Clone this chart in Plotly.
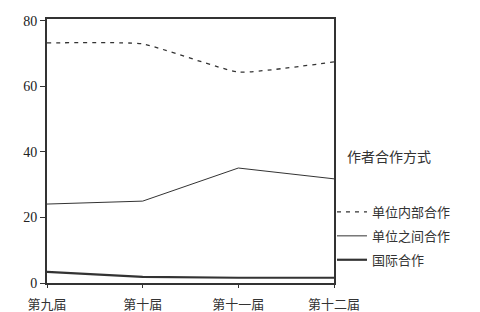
import plotly.graph_objects as go

categories = ["第九届", "第十届", "第十一届", "第十二届"]
within_unit = [73.3, 73.0, 64.4, 67.5]
between_units = [24.1, 25.0, 35.1, 31.8]
international = [3.4, 1.9, 1.6, 1.6]
series_names = ["单位内部合作", "单位之间合作", "国际合作"]
legend_title = "作者合作方式"
y_ticks = [0, 20, 40, 60, 80]

FONT = "Liberation Serif, Noto Sans CJK SC, serif"
INK = "#333333"

fig = go.Figure()
fig.add_trace(go.Scatter(x=categories, y=within_unit, mode="lines", name=series_names[0],
                         line=dict(color=INK, width=1.3, dash="4px,5px", shape="spline", smoothing=0.4),
                         legendgroup="a"))
fig.add_trace(go.Scatter(x=categories, y=between_units, mode="lines", name=series_names[1],
                         line=dict(color=INK, width=1), legendgroup="b"))
fig.add_trace(go.Scatter(x=categories, y=international, mode="lines", name=series_names[2],
                         line=dict(color=INK, width=2.2), legendgroup="c"))

fig.update_layout(
    width=480, height=312,
    margin=dict(l=47, r=146, t=19, b=29),
    paper_bgcolor="white", plot_bgcolor="white",
    font=dict(family=FONT, size=13, color="#222"),
    showlegend=True,
    legend=dict(x=0.993, xanchor="left", y=0.178, yanchor="middle",
                font=dict(family="Noto Sans CJK SC", size=13, color="#333"),
                tracegroupgap=4, itemwidth=30, bgcolor="rgba(0,0,0,0)"),
    annotations=[dict(text=legend_title, xref="paper", yref="paper", x=1.04, y=0.48,
                      xanchor="left", yanchor="middle", showarrow=False,
                      font=dict(family="Noto Sans CJK SC", size=14, color="#333"))],
)
fig.update_xaxes(type="category", range=[0, 3], showline=True, linewidth=2, linecolor=INK,
                 mirror=True, ticks="outside", ticklen=3, tickcolor=INK, showgrid=False,
                 ticklabelstandoff=5, automargin=False,
                 tickfont=dict(family="Noto Sans CJK SC", size=13, color="#333"))
fig.update_yaxes(range=[0, 80.6], tickvals=y_ticks, showline=True, linewidth=2, linecolor=INK,
                 mirror=True, ticks="outside", ticklen=5, tickcolor=INK, showgrid=False,
                 automargin=False,
                 zeroline=False, tickfont=dict(family=FONT, size=14, color="#222"))

fig.write_html("out.html")
